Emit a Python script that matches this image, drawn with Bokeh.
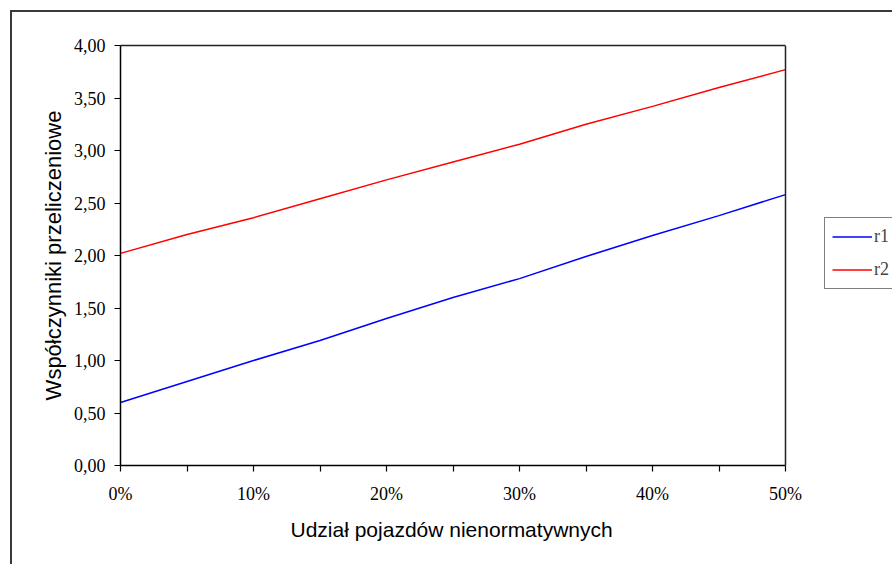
from bokeh.plotting import figure
from bokeh.models import (FixedTicker, CustomJSTickFormatter, Legend, LegendItem,
                          ColumnDataSource, LinearAxis, Span, Range1d, Title)
from bokeh.embed import file_html
from bokeh.resources import INLINE

# ---- data ----
share_pct = [0, 5, 10, 15, 20, 25, 30, 35, 40, 45, 50]
r1 = [0.60, 0.80, 1.00, 1.19, 1.40, 1.60, 1.78, 1.99, 2.19, 2.38, 2.58]
r2 = [2.02, 2.20, 2.36, 2.54, 2.72, 2.89, 3.06, 3.25, 3.42, 3.60, 3.77]
y_ticks = [0, 0.5, 1.0, 1.5, 2.0, 2.5, 3.0, 3.5, 4.0]
x_ticks = [0, 5, 10, 15, 20, 25, 30, 35, 40, 45, 50]
x_title = "Udział pojazdów nienormatywnych"
y_title = "Współczynniki przeliczeniowe"

X_MIN, X_MAX = 0, 50
Y_MIN, Y_MAX = 0, 4

# layout (pixels)
PLOT_W = 665          # width of the plot area
FRAME_W = 772         # frame extends to the right edge so the legend fits in it
FRAME_H = 420

src = ColumnDataSource(dict(x=share_pct, r1=r1, r2=r2))

x_end = X_MIN + (X_MAX - X_MIN) * FRAME_W / PLOT_W
p = figure(frame_width=FRAME_W, frame_height=FRAME_H, output_backend="svg",
           toolbar_location=None,
           x_range=Range1d(X_MIN, x_end), y_range=Range1d(Y_MIN, Y_MAX),
           min_border_left=108, min_border_right=0,
           min_border_top=33, min_border_bottom=99)
p.styles = {"margin-left": "10px", "margin-top": "10px",
            "border-left": "2px solid #3a3a3a", "border-top": "2px solid #3a3a3a"}
p.background_fill_color = "white"
p.border_fill_color = "white"
p.grid.visible = False
p.outline_line_color = None

serif = "Liberation Serif"
sans = "Liberation Sans"

l1 = p.line("x", "r1", source=src, line_color="#0000ff", line_width=1.5)
l2 = p.line("x", "r2", source=src, line_color="#ff0000", line_width=1.5)

# axes
p.yaxis.ticker = FixedTicker(ticks=y_ticks)
p.yaxis.formatter = CustomJSTickFormatter(code="return tick.toFixed(2).replace('.', ',');")
p.xaxis.ticker = FixedTicker(ticks=x_ticks)
p.xaxis.bounds = (X_MIN, X_MAX)
p.xaxis.formatter = CustomJSTickFormatter(
    code="return (Math.round(tick) % 10 === 0) ? Math.round(tick) + '%' : '';")

for ax in (p.xaxis[0], p.yaxis[0]):
    ax.axis_line_color = "black"
    ax.axis_line_width = 1.5
    ax.major_tick_line_color = "black"
    ax.major_tick_line_width = 1.2
    ax.major_tick_out = 6
    ax.major_tick_in = 0
    ax.minor_tick_line_color = None
    ax.major_label_text_font = serif
    ax.major_label_text_font_size = "18px"
    ax.major_label_text_color = "black"
    ax.axis_label_text_font = sans
    ax.axis_label_text_font_style = "normal"
    ax.axis_label_text_color = "black"

p.yaxis.axis_label = y_title
p.yaxis.axis_label_text_font_size = "22px"
p.xaxis.major_label_standoff = 12
p.yaxis.major_label_standoff = 9
p.yaxis.axis_label_standoff = 5

# x-axis title, centred under the plot area (not under the whole frame)
xt = Title(text=x_title, align="left", offset=170, standoff=18,
           text_font=sans, text_font_size="21px", text_font_style="normal",
           text_color="black")
p.add_layout(xt, "below")

# top border of the plot area (bounded axis line, no ticks)
top = LinearAxis(ticker=FixedTicker(ticks=[X_MIN]), bounds=(X_MIN, X_MAX),
                 formatter=CustomJSTickFormatter(code="return '';"),
                 axis_line_color="#222222", axis_line_width=1.5,
                 major_tick_line_color=None, minor_tick_line_color=None,
                 major_tick_out=0, major_tick_in=0, minor_tick_out=0,
                 major_label_standoff=0, major_label_text_font_size="1px")
p.add_layout(top, "above")

# right border of the plot area
p.add_layout(Span(location=X_MAX, dimension="height", line_color="#222222",
                  line_width=1.5))

# legend
legend = Legend(items=[LegendItem(label="r1", renderers=[l1]),
                       LegendItem(label="r2", renderers=[l2])],
                location=(704, 176))
legend.border_line_color = "black"
legend.border_line_width = 1
legend.background_fill_color = "white"
legend.background_fill_alpha = 1
legend.label_text_font = serif
legend.label_text_font_size = "18px"
legend.glyph_width = 40
legend.glyph_height = 23
legend.label_height = 23
legend.label_standoff = 2
legend.spacing = 10
legend.padding = 7
legend.margin = 0
p.add_layout(legend, "center")

open("out.html", "w").write(file_html(p, INLINE))
